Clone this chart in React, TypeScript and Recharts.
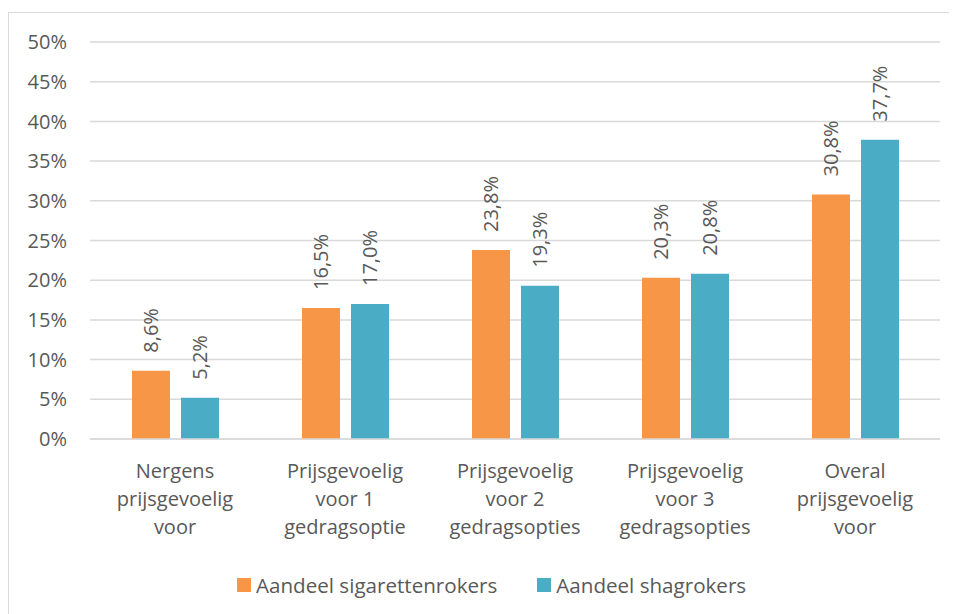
import React from 'react';
import { BarChart, Bar, XAxis, YAxis, CartesianGrid, Legend, LabelList } from 'recharts';

const categories = [
  'Nergens\nprijsgevoelig\nvoor',
  'Prijsgevoelig\nvoor 1\ngedragsoptie',
  'Prijsgevoelig\nvoor 2\ngedragsopties',
  'Prijsgevoelig\nvoor 3\ngedragsopties',
  'Overal\nprijsgevoelig\nvoor',
];
const sigarettenrokers = [8.6, 16.5, 23.8, 20.3, 30.8];
const shagrokers = [5.2, 17.0, 19.3, 20.8, 37.7];
const yTicks = [0, 5, 10, 15, 20, 25, 30, 35, 40, 45, 50];
const seriesNames = ['Aandeel sigarettenrokers', 'Aandeel shagrokers'];
const seriesColors = ['#F79646', '#4BACC6'];

const data = categories.map((c, i) => ({
  name: c,
  sig: sigarettenrokers[i],
  shag: shagrokers[i],
}));

const FONT = '"Open Sans", sans-serif';
const TEXT = '#595959';

const fmt = (v: number) => v.toFixed(1).replace('.', ',') + '%';

const XTick = (props: any) => {
  const { x, y, payload } = props;
  const lines = String(payload.value).split('\n');
  return (
    <text x={x} y={y} textAnchor="middle" fill={TEXT} fontSize={20} fontFamily={FONT}>
      {lines.map((l, i) => (
        <tspan key={i} x={x} dy={i === 0 ? 31 : 28}>
          {l}
        </tspan>
      ))}
    </text>
  );
};

const RotLabel = (props: any) => {
  const { x, y, width, value } = props;
  const cx = Number(x) + Number(width) / 2;
  const ty = Number(y) - 18;
  return (
    <text
      x={cx}
      y={ty}
      transform={`rotate(-90, ${cx}, ${ty})`}
      textAnchor="start"
      dominantBaseline="central"
      fill={TEXT}
      fontSize={20}
      fontFamily={FONT}
    >
      {fmt(Number(value))}
    </text>
  );
};

const LegendContent = () => (
  <div style={{ display: 'flex', alignItems: 'center', fontFamily: FONT, fontSize: 20.6, color: TEXT, whiteSpace: 'nowrap' }}>
    {seriesNames.map((n, i) => (
      <div key={n} style={{ display: 'flex', alignItems: 'center', marginRight: i === 0 ? 40 : 0 }}>
        <div style={{ width: 14, height: 14, background: seriesColors[i], marginRight: 5 }} />
        <span>{n}</span>
      </div>
    ))}
  </div>
);

export default function App() {
  return (
    <div
      style={{
        marginTop: 4,
        width: 960,
        height: 610,
        borderTop: '1px solid #d9d9d9',
        borderLeft: '1px solid #d9d9d9',
        background: '#fff',
        position: 'relative',
        overflow: 'hidden',
      }}
    >
      <BarChart
        width={940}
        height={600}
        data={data}
        margin={{ top: 29, right: 9, left: 0, bottom: 74 }}
        barGap={11}
        barSize={38}
      >
        <CartesianGrid vertical={false} stroke="#d9d9d9" strokeWidth={1.5} />
        <XAxis
          dataKey="name"
          axisLine={{ stroke: '#d9d9d9', strokeWidth: 1.5 }}
          tickLine={false}
          tick={<XTick />}
          interval={0}
          height={100}
        />
        <YAxis
          domain={[0, 50]}
          ticks={yTicks}
          interval={0}
          width={81}
          axisLine={false}
          tickLine={false}
          tickMargin={17}
          tickFormatter={(v: number) => `${v}%`}
          tick={{ fill: TEXT, fontSize: 20, fontFamily: FONT }}
        />
        <Legend
          verticalAlign="middle"
          layout="horizontal"
          align="center"
          content={<LegendContent />}
          wrapperStyle={{ top: 558, left: 228, width: 'auto' }}
        />
        <Bar dataKey="sig" name={seriesNames[0]} fill={seriesColors[0]} isAnimationActive={false}>
          <LabelList dataKey="sig" content={<RotLabel />} />
        </Bar>
        <Bar dataKey="shag" name={seriesNames[1]} fill={seriesColors[1]} isAnimationActive={false}>
          <LabelList dataKey="shag" content={<RotLabel />} />
        </Bar>
      </BarChart>
    </div>
  );
}
